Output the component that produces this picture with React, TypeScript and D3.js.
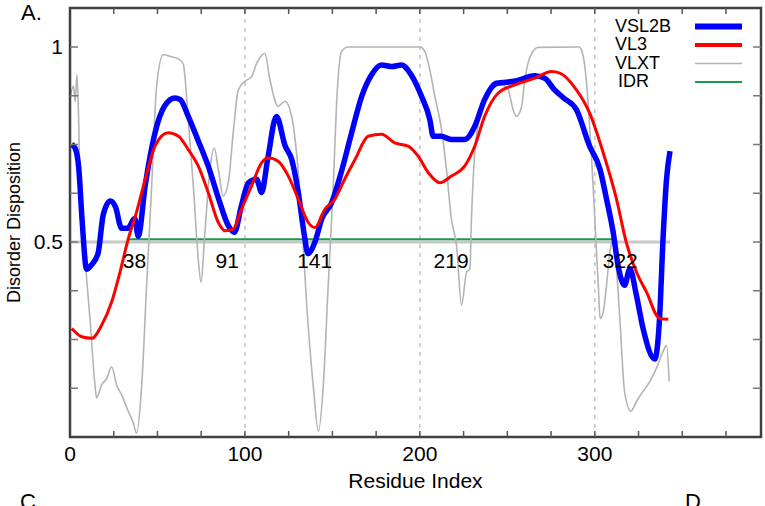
import React, { useEffect, useRef } from 'react';
import * as d3 from 'd3';

// VSL2B predictor
const vsl2bResidues = [1, 3, 5, 7, 9.5, 12, 16, 19, 23, 26, 29.5, 33, 37, 39, 43, 48.6, 54, 60, 63, 67.6, 73, 79, 85, 90.5, 94, 98, 102, 106.7, 109.5, 113, 118, 123, 126.7, 130.5, 134, 136, 140, 144, 149.5, 155, 161, 166.7, 172.4, 178, 184, 189.5, 195, 201, 205.7, 207.6, 212, 218, 225.7, 231.4, 237, 243.8, 254, 265.7, 271.4, 277, 282, 289.5, 297, 303, 306.7, 310.5, 313.3, 317, 320, 323.8, 327.6, 334.3, 337, 339, 341, 343];
const vsl2bScores = [0.75, 0.74, 0.69, 0.55, 0.43, 0.44, 0.47, 0.57, 0.605, 0.59, 0.535, 0.535, 0.56, 0.515, 0.645, 0.78, 0.848, 0.869, 0.865, 0.822, 0.763, 0.695, 0.61, 0.542, 0.525, 0.593, 0.652, 0.661, 0.627, 0.712, 0.822, 0.746, 0.712, 0.627, 0.516, 0.47, 0.5, 0.56, 0.6, 0.678, 0.78, 0.873, 0.929, 0.954, 0.95, 0.954, 0.929, 0.873, 0.814, 0.771, 0.771, 0.763, 0.763, 0.797, 0.865, 0.907, 0.912, 0.926, 0.92, 0.89, 0.87, 0.839, 0.746, 0.686, 0.61, 0.525, 0.44, 0.389, 0.431, 0.363, 0.278, 0.2, 0.304, 0.508, 0.661, 0.733];

// VL3 predictor
const vl3Residues = [1, 6.7, 12.4, 18, 23.8, 28.6, 33.3, 38, 43, 48.6, 56, 62, 67.6, 73.3, 79, 84.8, 88.6, 93.3, 98, 103.8, 109.5, 113.3, 119, 124.8, 130.5, 136.2, 140, 145.7, 151.4, 157, 163, 170.5, 178, 185.7, 193.3, 199, 204.8, 211.4, 218, 225.7, 231.4, 237, 244.8, 254.3, 265.7, 275.2, 280, 289.5, 297, 304.8, 312.4, 318, 323.8, 329.5, 337, 342];
const vl3Scores = [0.278, 0.257, 0.253, 0.286, 0.346, 0.423, 0.508, 0.576, 0.661, 0.746, 0.78, 0.771, 0.737, 0.695, 0.627, 0.55, 0.529, 0.533, 0.584, 0.644, 0.703, 0.716, 0.707, 0.669, 0.61, 0.55, 0.537, 0.584, 0.61, 0.661, 0.712, 0.771, 0.776, 0.754, 0.746, 0.72, 0.678, 0.652, 0.669, 0.695, 0.746, 0.822, 0.882, 0.903, 0.92, 0.937, 0.933, 0.89, 0.831, 0.729, 0.61, 0.499, 0.423, 0.372, 0.304, 0.302];

// VLXT predictor
const vlxtResidues = [0, 2, 3, 4, 5, 5.7, 8.6, 11.4, 14.3, 15.2, 18, 21, 23.8, 26.7, 29.5, 33.3, 36.2, 38, 41, 43.8, 46.7, 49.5, 53.3, 58, 62.9, 64.8, 67.6, 70.5, 73.3, 74.9, 77, 80, 82.5, 84.8, 87.6, 90.5, 93.3, 96.2, 100, 103.8, 106.7, 111.4, 114.3, 119, 122.9, 126.7, 129.5, 132.4, 135.2, 139, 142, 144.8, 147.6, 150.5, 152.4, 155.2, 159, 200, 202.9, 205.7, 208.6, 212.4, 215.2, 218, 221, 223.8, 226.7, 228.6, 229.5, 231.4, 235.2, 241, 246.7, 250.5, 253.3, 255.2, 258, 260, 263, 267.6, 291, 292.4, 294.3, 296.2, 298, 300, 302, 303, 304.8, 306.7, 308.6, 310.5, 312.4, 314.3, 317, 320.6, 323.8, 327.6, 331.4, 335.2, 339, 341, 342.5];
const vlxtScores = [0.87, 0.9, 0.86, 0.93, 0.8, 0.644, 0.457, 0.304, 0.133, 0.1, 0.133, 0.15, 0.18, 0.133, 0.108, 0.066, 0.036, 0.01, 0.133, 0.389, 0.644, 0.899, 0.98, 0.975, 0.967, 0.955, 0.814, 0.644, 0.457, 0.397, 0.516, 0.686, 0.741, 0.686, 0.618, 0.652, 0.78, 0.89, 0.912, 0.924, 0.958, 0.984, 0.916, 0.848, 0.861, 0.822, 0.729, 0.559, 0.346, 0.133, 0.015, 0.133, 0.389, 0.644, 0.856, 0.988, 1.0, 1.0, 0.988, 0.941, 0.873, 0.788, 0.686, 0.559, 0.49, 0.338, 0.423, 0.431, 0.559, 0.729, 0.839, 0.89, 0.903, 0.89, 0.839, 0.822, 0.844, 0.916, 0.975, 0.999, 1.0, 0.992, 0.95, 0.856, 0.729, 0.559, 0.389, 0.304, 0.32, 0.389, 0.474, 0.508, 0.431, 0.304, 0.117, 0.066, 0.091, 0.117, 0.142, 0.176, 0.219, 0.235, 0.142];

// cutoff and IDR segment
const cutoffRange = [0, 343];
const cutoffScore = 0.5;
const idrRange = [33, 310];
const idrScore = 0.507;
const idrMarks = [38, 91, 141, 219, 322];

const residueTicks = [0, 100, 200, 300];
const scoreTicks = [0.5, 1];
const legendNames = ['VSL2B', 'VL3', 'VLXT', 'IDR'];

const font = '"Liberation Sans", Arial, sans-serif';

const App = () => {
  const ref = useRef<SVGSVGElement>(null);

  useEffect(() => {
    const svg = d3.select(ref.current);
    svg.selectAll('*').remove();

    const x = d3.scaleLinear().domain([0, 395]).range([70, 761]);
    const y = d3.scaleLinear().domain([0, 1.1]).range([437, 8]);
    const [x0, x1] = x.range();
    const [y0, y1] = y.range();

    // dashed grid
    svg.selectAll('.grid')
      .data([100, 200, 300])
      .enter()
      .append('line')
      .attr('x1', d => x(d)).attr('x2', d => x(d))
      .attr('y1', y0).attr('y2', y1)
      .attr('stroke', '#c4c4c4')
      .attr('stroke-width', 1.5)
      .attr('stroke-dasharray', '4,5');

    // 0.5 cutoff
    svg.append('line')
      .attr('x1', x(cutoffRange[0])).attr('x2', x(cutoffRange[1]))
      .attr('y1', y(cutoffScore)).attr('y2', y(cutoffScore))
      .attr('stroke', '#c8c8c8')
      .attr('stroke-width', 3);

    svg.append('line')
      .attr('x1', x(idrRange[0])).attr('x2', x(idrRange[1]))
      .attr('y1', y(idrScore)).attr('y2', y(idrScore))
      .attr('stroke', '#1a9a4a')
      .attr('stroke-width', 2);

    const line = (xs: number[], vs: number[]) =>
      d3.line<number>()
        .x((d, i) => x(xs[i]))
        .y(d => y(d))
        .curve(d3.curveMonotoneX)(vs);

    svg.append('path')
      .attr('d', line(vlxtResidues, vlxtScores))
      .attr('fill', 'none')
      .attr('stroke', '#b4b4b4')
      .attr('stroke-width', 1.6);

    svg.append('path')
      .attr('d', line(vsl2bResidues, vsl2bScores))
      .attr('fill', 'none')
      .attr('stroke', '#0000ff')
      .attr('stroke-width', 5.5)
      .attr('stroke-linejoin', 'round');

    svg.append('path')
      .attr('d', line(vl3Residues, vl3Scores))
      .attr('fill', 'none')
      .attr('stroke', '#ff0000')
      .attr('stroke-width', 3);

    // frame and ticks
    svg.append('rect')
      .attr('x', x0).attr('y', y1)
      .attr('width', x1 - x0).attr('height', y0 - y1)
      .attr('fill', 'none')
      .attr('stroke', '#404040')
      .attr('stroke-width', 2.5);

    const xt = d3.range(25, 395, 25);
    svg.selectAll('.xtb').data(xt).enter().append('line')
      .attr('x1', d => x(d)).attr('x2', d => x(d))
      .attr('y1', y0).attr('y2', y0 - 6)
      .attr('stroke', '#555').attr('stroke-width', 1.5);
    svg.selectAll('.xtt').data(xt).enter().append('line')
      .attr('x1', d => x(d)).attr('x2', d => x(d))
      .attr('y1', y1).attr('y2', y1 + 6)
      .attr('stroke', '#555').attr('stroke-width', 1.5);

    const yt = d3.range(0.125, 1.1, 0.125);
    svg.selectAll('.ytl').data(yt).enter().append('line')
      .attr('x1', x0).attr('x2', x0 + 8)
      .attr('y1', d => y(d)).attr('y2', d => y(d))
      .attr('stroke', '#777').attr('stroke-width', 1.5);
    svg.selectAll('.ytr').data(yt).enter().append('line')
      .attr('x1', x1).attr('x2', x1 - 8)
      .attr('y1', d => y(d)).attr('y2', d => y(d))
      .attr('stroke', '#777').attr('stroke-width', 1.5);

    // tick labels
    svg.selectAll('.xl').data(residueTicks).enter().append('text')
      .attr('x', d => x(d)).attr('y', y0 + 24)
      .attr('text-anchor', 'middle')
      .attr('font-family', font).attr('font-size', 21)
      .text(d => d);
    svg.selectAll('.yl').data(scoreTicks).enter().append('text')
      .attr('x', x0 - 7).attr('y', d => y(d))
      .attr('dy', '0.35em')
      .attr('text-anchor', 'end')
      .attr('font-family', font).attr('font-size', 21)
      .text(d => d);

    svg.append('text')
      .attr('x', (x0 + x1) / 2).attr('y', 488)
      .attr('text-anchor', 'middle')
      .attr('font-family', font).attr('font-size', 21)
      .text('Residue Index');

    svg.append('text')
      .attr('transform', `translate(20,${(y0 + y1) / 2}) rotate(-90)`)
      .attr('text-anchor', 'middle')
      .attr('font-family', font).attr('font-size', 18)
      .text('Disorder Disposition');

    // IDR boundary labels
    svg.selectAll('.idr').data(idrMarks).enter().append('text')
      .attr('x', d => x(d) + (d === 322 ? -13 : -2))
      .attr('y', y(cutoffScore) + 26)
      .attr('text-anchor', 'middle')
      .attr('font-family', font).attr('font-size', 21)
      .text(d => d);

    // legend
    const legendColors = ['#0000ff', '#ff0000', '#b4b4b4', '#1a9a4a'];
    const legendWidths = [6, 4, 1.6, 2];
    const lg = svg.selectAll('.lg').data(legendNames).enter().append('g')
      .attr('transform', (d, i) => `translate(0,${31.5 + i * 18.5})`);
    lg.append('text')
      .attr('x', (d, i) => (i === 3 ? 618 : 615))
      .attr('font-family', font).attr('font-size', 18)
      .text(d => d);
    lg.append('line')
      .attr('x1', 695).attr('x2', 742)
      .attr('y1', -5).attr('y2', -5)
      .attr('stroke', (d, i) => legendColors[i])
      .attr('stroke-width', (d, i) => legendWidths[i]);

    // panel letters
    svg.append('text').attr('x', 21).attr('y', 20)
      .attr('font-family', font).attr('font-size', 22).text('A.');
    svg.append('text').attr('x', 20).attr('y', 509)
      .attr('font-family', font).attr('font-size', 22).text('C');
    svg.append('text').attr('x', 685).attr('y', 509)
      .attr('font-family', font).attr('font-size', 22).text('D');
  }, []);

  return (
    <svg ref={ref} width={765} height={506}
      style={{ position: 'absolute', left: 0, top: 0, background: '#fff' }} />
  );
};

export default App;
